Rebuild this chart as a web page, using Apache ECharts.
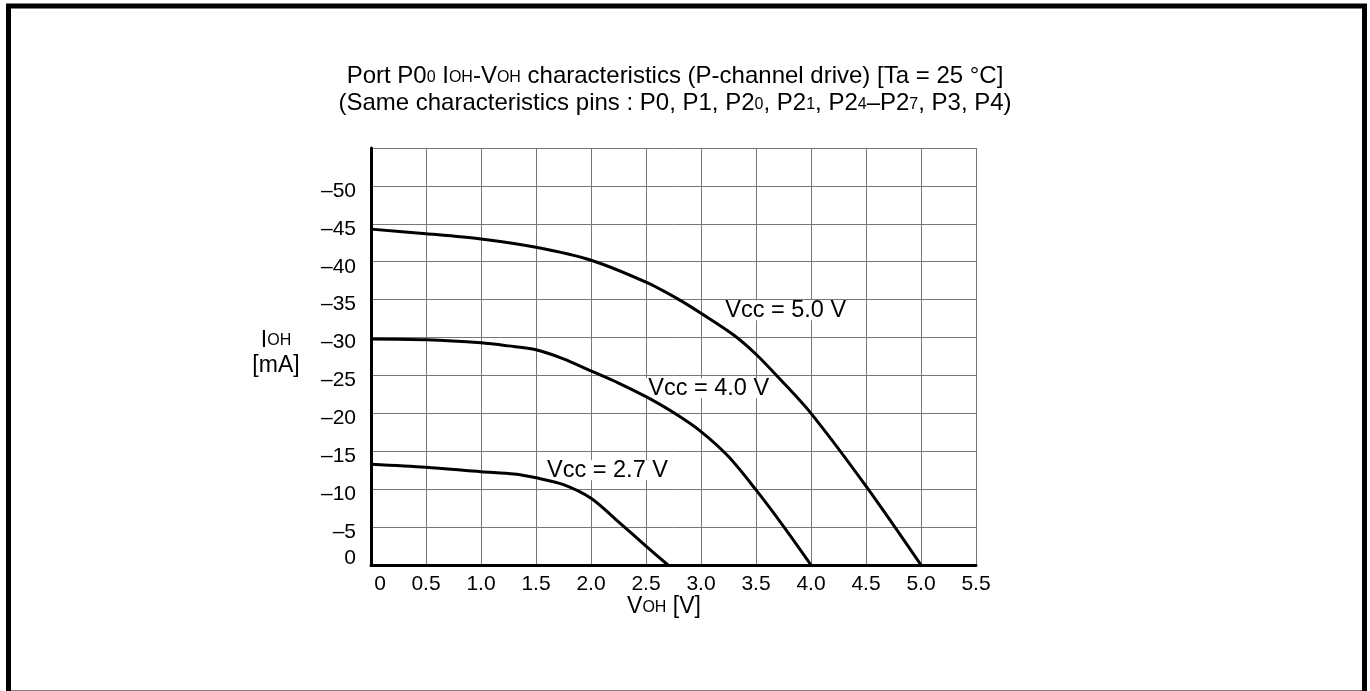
<!DOCTYPE html>
<html>
<head>
<meta charset="utf-8">
<script src="https://cdn.jsdelivr.net/npm/echarts@6/dist/echarts.min.js"></script>
<style>html,body{margin:0;padding:0;background:#fff}#c{width:1370px;height:691px}</style>
</head>
<body>
<div id="c"></div>
<script>
const FONT = '"Liberation Sans", Arial, Helvetica, sans-serif';

// I_OH [mA] versus V_OH [V]
const vcc50 = [[0,-44.3],[0.5,-43.7],[1.0,-43.0],[1.5,-41.9],[2.0,-40.2],[2.5,-37.3],[2.8,-35.0],[3.0,-33.2],[3.3,-30.3],[3.5,-27.8],[3.7,-24.8],[4.0,-20.0],[4.5,-10.4],[5.0,0]];
const vcc40 = [[0,-29.8],[0.5,-29.7],[1.0,-29.3],[1.25,-28.9],[1.5,-28.4],[1.75,-27.2],[2.0,-25.6],[2.25,-24.0],[2.5,-22.2],[2.75,-20.1],[3.0,-17.6],[3.25,-14.3],[3.5,-9.9],[3.75,-5.1],[4.0,0]];
const vcc27 = [[0,-13.3],[0.5,-12.9],[1.0,-12.3],[1.3,-12.0],[1.5,-11.5],[1.75,-10.6],[2.0,-8.8],[2.25,-5.7],[2.5,-2.5],[2.7,0]];
const seriesNames = ['Vcc = 5.0 V', 'Vcc = 4.0 V', 'Vcc = 2.7 V'];
const seriesData = [vcc50, vcc40, vcc27];
const labelCoords = [[3.77,-33.6],[3.07,-23.3],[2.15,-12.5]];
const xMin = 0, xMax = 5.5, xStep = 0.5;
const yMin = -55, yMax = 0, yStep = 5;

const chart = echarts.init(document.getElementById('c'), null, {renderer: 'canvas'});

const series = seriesData.map((d, i) => ({
  type: 'line',
  name: seriesNames[i],
  data: d,
  symbol: 'none',
  smooth: 0.3,
  lineStyle: {color: '#000', width: 3},
  z: 3,
  markPoint: {
    symbol: 'circle',
    symbolSize: 1,
    silent: true,
    z: 2,
    itemStyle: {color: 'rgba(0,0,0,0)'},
    label: {
      show: true, position: 'inside', formatter: seriesNames[i],
      color: '#000', fontFamily: FONT, fontSize: 23.5, lineHeight: 20,
      backgroundColor: '#fff', padding: [0, 4]
    },
    data: [{coord: labelCoords[i]}]
  }
}));

chart.setOption({
  animation: false,
  backgroundColor: '#fff',
  grid: {left: 371, top: 148, width: 605, height: 417, containLabel: false},
  xAxis: {
    type: 'value', min: xMin, max: xMax, interval: xStep,
    axisLine: {show: true, onZero: false, lineStyle: {color: '#000', width: 3}},
    axisTick: {show: false},
    splitLine: {show: true, lineStyle: {color: '#777', width: 1}},
    axisLabel: {
      color: '#000', fontFamily: FONT, fontSize: 21, margin: 9,
      formatter: v => v === 0 ? '{z|0}' : v.toFixed(1),
      rich: {z: {padding: [0, 0, 0, 18], fontFamily: FONT, fontSize: 21, color: '#000'}}
    }
  },
  yAxis: {
    type: 'value', min: yMin, max: yMax, interval: yStep, inverse: true,
    axisLine: {show: true, onZero: false, lineStyle: {color: '#000', width: 3}},
    axisTick: {show: false},
    splitLine: {show: true, lineStyle: {color: '#777', width: 1}},
    axisLabel: {
      color: '#000', fontFamily: FONT, fontSize: 21, margin: 15,
      formatter: v => v === 0 ? '{z|0}' : (v <= yMin ? '' : '{n|\u2013' + (-v) + '}'),
      rich: {
        n: {padding: [10, 0, 0, 0], fontFamily: FONT, fontSize: 21, color: '#000'},
        z: {padding: [0, 0, 14, 0], fontFamily: FONT, fontSize: 21, color: '#000'}
      }
    }
  },
  graphic: [
    {
      type: 'rect', silent: true, z: 100,
      shape: {x: 8.5, y: 6, width: 1356, height: 687},
      style: {fill: 'none', stroke: '#000', lineWidth: 5}
    },
    {
      type: 'text', x: 675, y: 90, silent: true,
      style: {
        text: 'Port P0{s|0} I{s|OH}-V{s|OH} characteristics (P-channel drive) [Ta = 25 \u00B0C]\n(Same characteristics pins : P0, P1, P2{s|0}, P2{s|1}, P2{s|4}\u2013P2{s|7}, P3, P4)',
        fontFamily: FONT, fontSize: 24, lineHeight: 27, fill: '#000',
        align: 'center', verticalAlign: 'middle',
        rich: {s: {fontFamily: FONT, fontSize: 16, lineHeight: 22, verticalAlign: 'bottom', padding: [0, 0, 4, 0], fill: '#000'}}
      }
    },
    {
      type: 'text', x: 276, y: 353, silent: true,
      style: {
        text: 'I{s|OH}\n[mA]',
        fontFamily: FONT, fontSize: 23, lineHeight: 25, fill: '#000',
        align: 'center', verticalAlign: 'middle',
        rich: {s: {fontFamily: FONT, fontSize: 16, lineHeight: 20, verticalAlign: 'bottom', padding: [0, 0, 4, 0], fill: '#000'}}
      }
    },
    {
      type: 'text', x: 664, y: 607, silent: true,
      style: {
        text: 'V{s|OH} [V]',
        fontFamily: FONT, fontSize: 23, lineHeight: 25, fill: '#000',
        align: 'center', verticalAlign: 'middle',
        rich: {s: {fontFamily: FONT, fontSize: 16, lineHeight: 20, verticalAlign: 'bottom', padding: [0, 0, 4, 0], fill: '#000'}}
      }
    }
  ],
  series: series
});
</script>
</body>
</html>
